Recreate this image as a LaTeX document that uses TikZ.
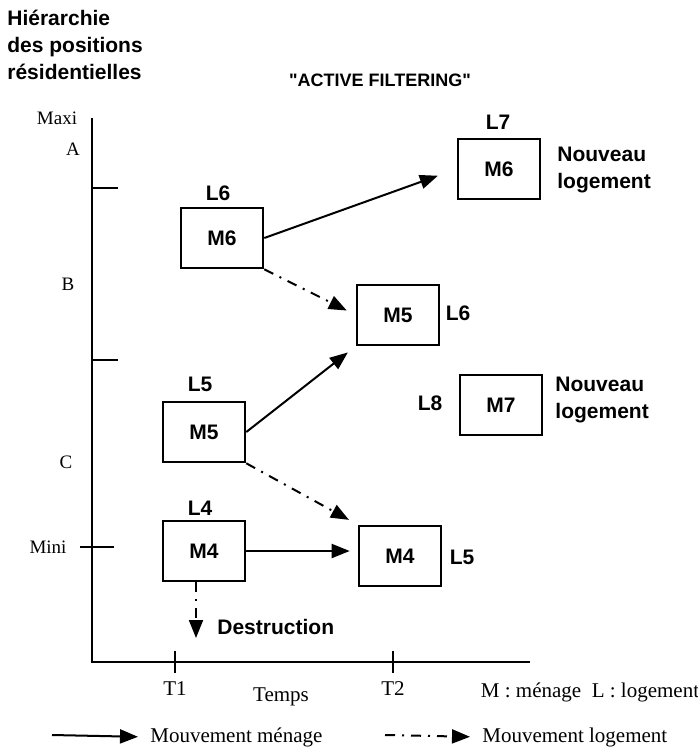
\documentclass[tikz,border=0pt]{standalone}
\usepackage{fontspec}
\setmainfont{Liberation Serif}
\setsansfont{Liberation Sans}
\newfontfamily\quotesans{Liberation Sans}[Ligatures=TeXOff]
\usetikzlibrary{arrows.meta}
\tikzstyle{empty-node}=[inner sep=1pt,font=\sffamily\bfseries\fontsize{10.5}{13.5}\selectfont]
\tikzstyle{serif-node}=[inner sep=1pt,font=\rmfamily\fontsize{10.5}{12}\selectfont]
\tikzstyle{level-node}=[inner sep=1pt,font=\rmfamily\fontsize{9.5}{11}\selectfont]
\tikzstyle{box-node}=[draw,line width=1.3pt,minimum width=41pt,minimum height=30pt,font=\sffamily\bfseries\fontsize{10.5}{12}\selectfont]
\tikzstyle{black-line}=[draw=black,line width=1pt]
\tikzstyle{dashdot-line}=[draw=black,line width=1pt,dash pattern=on 5pt off 3.5pt on 1pt off 3.5pt]

\begin{document}
\begin{tikzpicture}[x=0.5pt,y=-0.5pt]
        \useasboundingbox (0,0) rectangle (697,753);

        \begin{scope}
            % axes
            \coordinate (ytop) at (92,118);
            \coordinate (orig) at (92,662);
            \coordinate (xend) at (530,662);
            \draw[black-line] (ytop) -- (orig) -- (xend);
            \draw[black-line] (92,188) -- (118,188);
            \draw[black-line] (92,360) -- (118,360);
            \draw[black-line] (80,547) -- (114,547);
            \draw[black-line] (175,651) -- (175,673);
            \draw[black-line] (393,651) -- (393,673);

            \node (hier)[empty-node,align=left,anchor=north west] at (5,8) {Hiérarchie\\des positions\\résidentielles};
            \node (title)[empty-node,font=\quotesans\bfseries\fontsize{9}{11}\selectfont] at (380,80) {"ACTIVE FILTERING"};
            \node (maxi)[level-node] at (57,118) {Maxi};
            \node (ya)[level-node] at (73,149) {A};
            \node (yb)[level-node] at (68,284) {B};
            \node (yc)[level-node] at (66,462) {C};
            \node (mini)[level-node] at (48,547) {Mini};
            \node (t1)[serif-node] at (175,689) {T1};
            \node (temps)[serif-node] at (281,697) {Temps};
            \node (t2)[serif-node] at (393,689) {T2};
            \node (key)[serif-node] at (590,692) {M : ménage\ \ L : logement};

            % households and dwellings
            \node (m6a)[box-node] at (222,238) {M6};
            \node (m5a)[box-node] at (204,432) {M5};
            \node (m4a)[box-node] at (204,551) {M4};
            \node (m6b)[box-node] at (499,169) {M6};
            \node (m5b)[box-node] at (398,315) {M5};
            \node (m7)[box-node] at (501,405) {M7};
            \node (m4b)[box-node] at (400,556) {M4};

            \node (l6a)[empty-node] at (218,193) {L6};
            \node (l5a)[empty-node] at (200,384) {L5};
            \node (l4a)[empty-node] at (200,508) {L4};
            \node (l7)[empty-node] at (498,122) {L7};
            \node (l6b)[empty-node] at (458,313) {L6};
            \node (l8)[empty-node] at (430,403) {L8};
            \node (l5b)[empty-node] at (462,557) {L5};
            \node (new1)[empty-node,align=left,anchor=west] at (555,170) {Nouveau\\logement};
            \node (new2)[empty-node,align=left,anchor=west] at (553,400) {Nouveau\\logement};
            \node (destr)[empty-node,anchor=west] at (215,627) {Destruction};
            \coordinate (gone) at (196,638);

            % legend
            \coordinate (lg1) at (52,735);
            \coordinate (lg2) at (385,735);
            \node (mvm)[serif-node,anchor=west] at (148,737) {Mouvement ménage};
            \node (mvl)[serif-node,anchor=west] at (480,737) {Mouvement logement};
        \end{scope}

        \begin{scope}[>={Triangle[length=9pt,width=7pt]}]
            \path (m6a.east) edge[->,black-line,shorten >=10pt] (m6b.west);
            \path (m6a.south east) edge[->,dashdot-line,shorten >=5pt] (m5b.west);
            \path (m5a.east) edge[->,black-line,shorten >=5pt] (m5b.south west);
            \path (m5a.south east) edge[->,dashdot-line,shorten >=5pt] (m4b.north west);
            \path (m4a.east) edge[->,black-line,shorten >=4pt] (m4a.east -| m4b.west);
            \path (m4a.south -| gone) edge[->,dashdot-line] (gone);
            \path (lg1) edge[->,black-line,shorten >=5pt] (mvm.west);
            \path (lg2) edge[->,dashdot-line,shorten >=5pt] (mvl.west);
        \end{scope}

    \end{tikzpicture}
\end{document}
